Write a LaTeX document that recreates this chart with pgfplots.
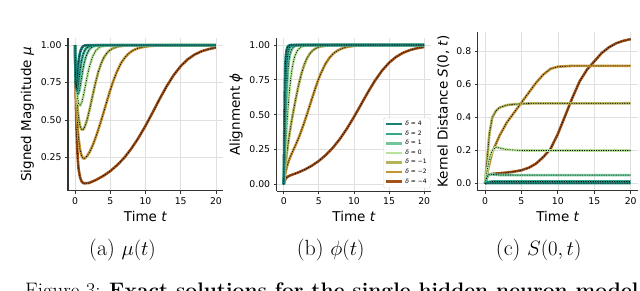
\documentclass[border=0pt]{standalone}
\usepackage{pgfplots}
\pgfplotsset{compat=1.18}
\usepackage{pgfplotstable}
\usepackage{fontspec}
\setsansfont{DejaVu Sans}

\definecolor{c4}{HTML}{1B7F77}
\definecolor{c2}{HTML}{33A88F}
\definecolor{c1}{HTML}{72C69A}
\definecolor{c0}{HTML}{B9E39B}
\definecolor{cm1}{HTML}{B3B35A}
\definecolor{cm2}{HTML}{C49535}
\definecolor{cm4}{HTML}{A0521A}

% ---------- (a) mu(t) ----------
\pgfplotstableread{
t y
0 1
0.05 0.829
0.1 0.741
0.15 0.712
0.2 0.72
0.25 0.745
0.3 0.777
0.4 0.843
0.5 0.892
0.6 0.924
0.7 0.948
0.8 0.965
1.0 0.985
1.2 0.995
1.5 0.999
2 1
20 1
}\muA
\pgfplotstableread{
t y
0 1
0.05 0.881
0.1 0.798
0.15 0.743
0.2 0.711
0.25 0.695
0.3 0.693
0.35 0.70
0.45 0.732
0.55 0.772
0.65 0.811
0.75 0.847
0.85 0.878
0.95 0.903
1.15 0.939
1.35 0.963
1.55 0.977
1.75 0.986
2 0.992
2.5 0.998
3 1
20 1
}\muB
\pgfplotstableread{
t y
0 1
0.05 0.903
0.1 0.830
0.2 0.737
0.3 0.689
0.4 0.672
0.5 0.676
0.6 0.693
0.7 0.718
0.8 0.747
0.9 0.776
1.1 0.834
1.3 0.881
1.5 0.916
1.7 0.942
1.9 0.961
2.1 0.975
2.5 0.990
3 0.997
3.5 0.999
4 1
20 1
}\muC
\pgfplotstableread{
t y
0 1
0.05 0.911
0.1 0.841
0.15 0.785
0.25 0.704
0.35 0.652
0.5 0.609
0.75 0.596
1 0.624
1.25 0.676
1.5 0.737
1.75 0.797
2 0.850
2.5 0.926
3 0.967
3.5 0.986
4 0.994
5 0.999
6 1
20 1
}\muD
\pgfplotstableread{
t y
0 1
0.05 0.90
0.1 0.825
0.2 0.705
0.3 0.62
0.4 0.559
0.5 0.514
0.7 0.461
0.9 0.438
1.1 0.434
1.3 0.445
1.7 0.499
2.1 0.577
2.5 0.664
2.9 0.748
3.3 0.821
3.7 0.877
4.1 0.918
4.5 0.946
4.9 0.965
5.3 0.977
6 0.990
7 0.997
8 0.999
20 1
}\muE
\pgfplotstableread{
t y
0 1
0.05 0.875
0.1 0.779
0.2 0.627
0.3 0.517
0.4 0.437
0.5 0.377
0.7 0.305
0.9 0.265
1.1 0.246
1.3 0.241
1.7 0.258
2.1 0.289
2.5 0.330
2.9 0.379
3.3 0.435
3.7 0.495
4.1 0.558
4.5 0.622
4.9 0.685
5.3 0.743
5.9 0.819
6.5 0.878
7.1 0.919
7.7 0.948
8.3 0.967
8.9 0.979
9.5 0.986
10.5 0.994
12 0.999
20 1
}\muF
\pgfplotstableread{
t y
0 1
0.05 0.807
0.1 0.657
0.2 0.452
0.3 0.319
0.4 0.231
0.5 0.173
0.7 0.119
0.9 0.092
1.1 0.080
1.3 0.076
2 0.079
3 0.0996
4 0.1257
5 0.158
6 0.199
7 0.248
8 0.309
9 0.380
10 0.461
11 0.549
12 0.640
13 0.725
14 0.800
15 0.860
16 0.906
17 0.938
18 0.960
19 0.974
20 0.984
}\muG

% ---------- (b) phi(t) ----------
\pgfplotstableread{
t y
0 0
0.05 0.233
0.1 0.47
0.15 0.663
0.2 0.793
0.25 0.874
0.3 0.922
0.4 0.96
0.5 0.98
0.6 0.99
0.8 0.997
1 1
20 1
}\phA
\pgfplotstableread{
t y
0 0
0.05 0.127
0.1 0.26
0.15 0.392
0.2 0.515
0.25 0.622
0.3 0.71
0.35 0.78
0.45 0.871
0.55 0.924
0.65 0.954
0.75 0.972
0.85 0.983
0.95 0.989
1.15 0.995
1.5 0.999
2 1
20 1
}\phB
\pgfplotstableread{
t y
0 0
0.05 0.083
0.1 0.169
0.2 0.341
0.3 0.5
0.4 0.634
0.5 0.737
0.6 0.814
0.7 0.869
0.8 0.907
0.9 0.934
1.1 0.964
1.3 0.98
1.5 0.989
1.7 0.994
2 0.997
2.5 0.999
3 1
20 1
}\phC
\pgfplotstableread{
t y
0 0
0.1 0.0997
0.2 0.1974
0.3 0.2913
0.4 0.3799
0.5 0.4621
0.6 0.537
0.7 0.6044
0.8 0.664
1.0 0.7616
1.2 0.8337
1.4 0.8854
1.6 0.9217
1.8 0.9468
2.0 0.964
2.5 0.9866
3 0.9951
3.5 0.9982
4 0.9993
5 1
20 1
}\phD
\pgfplotstableread{
t y
0 0
0.1 0.058
0.2 0.112
0.3 0.16
0.4 0.2045
0.5 0.2455
0.7 0.319
0.9 0.385
1.1 0.4465
1.3 0.504
1.7 0.611
2.1 0.708
2.5 0.79
2.9 0.855
3.3 0.903
3.7 0.937
4.1 0.959
4.5 0.974
4.9 0.983
5.3 0.989
6 0.995
7 0.998
8 1
20 1
}\phE
\pgfplotstableread{
t y
0 0
0.1 0.037
0.2 0.068
0.3 0.094
0.4 0.116
0.5 0.135
0.7 0.166
0.9 0.192
1.1 0.216
1.3 0.238
1.7 0.283
2.1 0.33
2.5 0.383
2.9 0.44
3.3 0.5
3.7 0.564
4.1 0.627
4.5 0.689
4.9 0.747
5.3 0.798
5.9 0.861
6.5 0.9075
7.1 0.94
7.7 0.961
8.3 0.975
8.9 0.985
9.5 0.99
10.5 0.996
12 0.999
20 1
}\phF
\pgfplotstableread{
t y
0 0
0.05 0.0106
0.1 0.0193
0.2 0.032
0.3 0.041
0.4 0.048
0.5 0.0525
0.7 0.0587
0.9 0.0634
1.1 0.0674
1.3 0.0712
2 0.0838
3 0.1058
4 0.1335
5 0.168
6 0.2106
7 0.2629
8 0.3259
9 0.3997
10 0.483
11 0.5721
12 0.6616
13 0.7448
14 0.816
15 0.8725
16 0.9144
17 0.9439
18 0.9638
19 0.9769
20 0.9854
}\phG

% ---------- (c) S(0,t) ----------
\pgfplotstableread{
t y
0 0
0.3 0.002
20 0.0015
}\sA
\pgfplotstableread{
t y
0 0
0.3 0.008
1 0.012
20 0.012
}\sB
\pgfplotstableread{
t y
0 0
0.2 0.03
0.5 0.055
1 0.055
2 0.051
20 0.05
}\sC
\pgfplotstableread{
t y
0 0
0.3 0.08
0.6 0.15
1 0.2
1.5 0.22
2 0.215
3 0.205
5 0.2
20 0.2
}\sD
\pgfplotstableread{
t y
0 0
0.3 0.15
0.6 0.3
1 0.4
1.5 0.44
2 0.46
3 0.475
4 0.48
6 0.485
20 0.486
}\sE
\pgfplotstableread{
t y
0 0
0.5 0.1
1 0.19
2 0.29
3 0.37
4 0.43
5 0.49
6 0.55
7 0.61
8 0.66
9 0.695
10 0.708
12 0.713
20 0.713
}\sF
\pgfplotstableread{
t y
0 0
0.3 0.04
0.6 0.055
1 0.058
2 0.062
3 0.066
4 0.072
5 0.08
6 0.095
7 0.12
8 0.16
9 0.21
10 0.30
11 0.41
12 0.52
13 0.62
14 0.69
15 0.74
16 0.79
17 0.825
18 0.85
19 0.865
20 0.875
}\sG

\newcommand{\dcurve}[2]{%
  \addplot[#1, line width=2.6pt] table {#2};
  \addplot[black, line width=0.6pt, dash pattern=on 1.2pt off 1.2pt, forget plot] table {#2};}

\pgfplotsset{
  common/.style={
    scale only axis, anchor=south west,
    xmin=-1, xmax=21, xtick={0,5,10,15,20},
    axis x line*=bottom, axis y line*=left,
    axis line style={black!80, line width=1.2pt},
    tick align=outside, major tick length=3pt,
    tick style={black!80, line width=0.8pt},
    grid=major, major grid style={black!12, line width=0.7pt},
    ticklabel style={font=\sffamily\fontsize{9.3}{10}\selectfont},
    /pgf/number format/assume math mode=true,
    label style={font=\sffamily\fontsize{13.5}{15}\selectfont},
    xlabel={Time \textit{t}},
    every axis plot/.append style={line join=round},
  }
}

\begin{document}
\begin{tikzpicture}
\useasboundingbox (0pt,0pt) rectangle (640pt,290pt);
\clip (0pt,0pt) rectangle (640pt,290pt);

% (a)
\begin{axis}[common, at={(68pt,99.3pt)}, width=155pt, height=152.7pt,
  ymin=0.027, ymax=1.048, ytick={0.25,0.5,0.75,1.0},
  yticklabel style={/pgf/number format/.cd, fixed, fixed zerofill, precision=2},
  ylabel={Signed Magnitude \textit{μ}}]
\dcurve{cm4}{\muG}
\dcurve{cm2}{\muF}
\dcurve{cm1}{\muE}
\dcurve{c0}{\muD}
\dcurve{c1}{\muC}
\dcurve{c2}{\muB}
\dcurve{c4}{\muA}
\end{axis}

% (b)
\begin{axis}[common, at={(276.7pt,98.7pt)}, width=154.5pt, height=153.3pt,
  ymin=-0.05, ymax=1.05, ytick={0,0.25,0.5,0.75,1.0},
  yticklabel style={/pgf/number format/.cd, fixed, fixed zerofill, precision=2},
  ylabel={Alignment \textit{ϕ}},
  reverse legend,
  legend style={at={(rel axis cs:0.995,0.02)}, anchor=south east,
    font=\sffamily\fontsize{6}{7}\selectfont, draw=black!15, rounded corners=1.5pt,
    fill=white, fill opacity=0.85, text opacity=1, row sep=-0.4pt, inner sep=1.5pt},
  legend cell align=left,
  legend image code/.code={\draw[#1, line width=2.4pt] (0pt,0pt) -- (16pt,0pt);}]
\dcurve{cm4}{\phG}
\dcurve{cm2}{\phF}
\dcurve{cm1}{\phE}
\dcurve{c0}{\phD}
\dcurve{c1}{\phC}
\dcurve{c2}{\phB}
\dcurve{c4}{\phA}
\legend{\textit{δ} = −4, \textit{δ} = −2, \textit{δ} = −1, \textit{δ} = 0, \textit{δ} = 1, \textit{δ} = 2, \textit{δ} = 4}
\end{axis}

% (c)
\begin{axis}[common, at={(477.7pt,99.3pt)}, width=160.3pt, height=159pt,
  ymin=-0.044, ymax=0.92, ytick={0,0.2,0.4,0.6,0.8},
  yticklabel style={/pgf/number format/.cd, fixed, fixed zerofill, precision=1},
  ylabel={Kernel Distance \textit{S}(0, \textit{t})}]
\dcurve{cm4}{\sG}
\dcurve{cm2}{\sF}
\dcurve{cm1}{\sE}
\dcurve{c0}{\sD}
\dcurve{c1}{\sC}
\dcurve{c2}{\sB}
\dcurve{c4}{\sA}
\end{axis}

\node[anchor=base, font=\fontsize{22}{24}\selectfont] at (122.5pt,35pt) {(a) $\mu(t)$};
\node[anchor=base, font=\fontsize{22}{24}\selectfont] at (330.7pt,35pt) {(b) $\phi(t)$};
\node[anchor=base, font=\fontsize{22}{24}\selectfont] at (538.7pt,35pt) {(c) $S(0,t)$};
\node[anchor=base west, inner sep=0pt, font=\fontsize{21}{23}\selectfont] at (25pt,-7.3pt) {Figure 3: \textbf{Exact solutions for the single hidden neuron model}};
\end{tikzpicture}
\end{document}
